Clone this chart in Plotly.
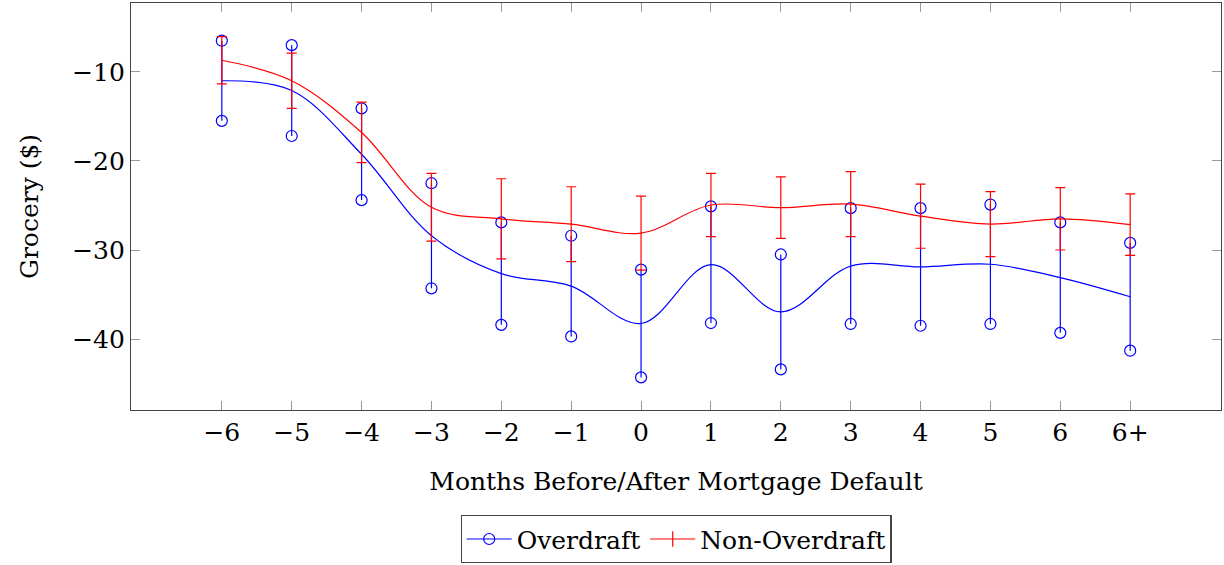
import plotly.graph_objects as go

# Months relative to mortgage default
months = ["−6", "−5", "−4", "−3", "−2", "−1", "0", "1", "2", "3", "4", "5", "6", "6+"]

# Overdraft group: point estimate and half-width of the confidence interval
overdraft_mean = [-11.0, -12.1, -19.25, -28.4, -32.65, -34.05, -38.25, -31.65, -36.95, -31.8, -31.9, -31.6, -33.1, -35.25]
overdraft_err = [4.5, 5.1, 5.15, 5.9, 5.75, 5.65, 6.05, 6.55, 6.45, 6.5, 6.6, 6.7, 6.2, 6.05]

# Non-overdraft group: point estimate and half-width of the confidence interval
nonoverdraft_mean = [-8.7, -11.0, -16.8, -25.2, -26.5, -27.1, -28.1, -24.95, -25.25, -24.85, -26.2, -27.1, -26.5, -27.15]
nonoverdraft_err = [2.65, 3.1, 3.4, 3.8, 4.5, 4.2, 4.15, 3.55, 3.45, 3.65, 3.6, 3.65, 3.5, 3.45]

BLUE = "#0000ff"
RED = "#ff0000"
FONT = "DejaVu Serif, Liberation Serif, serif"
FS = 25

fig = go.Figure()

# Overdraft: smooth curve with plain vertical error bars
fig.add_trace(go.Scatter(
    x=months, y=overdraft_mean, mode="lines",
    line=dict(color=BLUE, width=1.2, shape="spline", smoothing=1.0),
    error_y=dict(type="data", array=overdraft_err, visible=True,
                 color=BLUE, thickness=1.2, width=0),
    showlegend=False, hoverinfo="skip",
))

# Overdraft: open circles marking both ends of each interval
ends_x = months + months
ends_y = [m + e for m, e in zip(overdraft_mean, overdraft_err)] + \
         [m - e for m, e in zip(overdraft_mean, overdraft_err)]
fig.add_trace(go.Scatter(
    x=ends_x, y=ends_y, mode="markers",
    marker=dict(symbol="circle-open", size=11, color=BLUE, line=dict(width=1.2, color=BLUE)),
    showlegend=False, hoverinfo="skip",
))

# Non-overdraft: smooth curve with capped error bars
fig.add_trace(go.Scatter(
    x=months, y=nonoverdraft_mean, mode="lines",
    line=dict(color=RED, width=1.2, shape="spline", smoothing=1.0),
    error_y=dict(type="data", array=nonoverdraft_err, visible=True,
                 color=RED, thickness=1.2, width=5),
    showlegend=False, hoverinfo="skip",
))

# Legend entries
fig.add_trace(go.Scatter(
    x=[None], y=[None], mode="lines+markers", name="Overdraft",
    line=dict(color=BLUE, width=1.2),
    marker=dict(symbol="circle-open", size=11, color=BLUE, line=dict(width=1.2, color=BLUE)),
))
fig.add_trace(go.Scatter(
    x=[None], y=[None], mode="lines+markers", name="Non-Overdraft",
    line=dict(color=RED, width=1.2),
    marker=dict(symbol="line-ns", size=11, color=RED, line=dict(width=1.2, color=RED)),
))

fig.update_layout(
    width=1224, height=565,
    margin=dict(l=131, r=3, t=3, b=154),
    paper_bgcolor="white", plot_bgcolor="white",
    font=dict(family=FONT, size=FS, color="black"),
    legend=dict(
        orientation="h", x=0.5, xanchor="center", y=-0.255, yanchor="top",
        bordercolor="#444", borderwidth=1.2, bgcolor="white",
        font=dict(family=FONT, size=FS), itemwidth=45,
        tracegroupgap=0,
    ),
)

fig.update_xaxes(
    type="category", categoryorder="array", categoryarray=months,
    range=[-1.3, 14.3],
    showgrid=False, zeroline=False,
    showline=True, linecolor="#444", linewidth=1.2, mirror="ticks",
    ticks="inside", ticklen=9, tickcolor="#999", tickwidth=1,
    tickfont=dict(family=FONT, size=FS),
    title=dict(text="Months Before/After Mortgage Default",
               font=dict(family=FONT, size=FS), standoff=26),
)

fig.update_yaxes(
    range=[-47.96, -2.27],
    tickvals=[-10, -20, -30, -40],
    showgrid=False, zeroline=False,
    showline=True, linecolor="#444", linewidth=1.2, mirror="ticks",
    ticks="inside", ticklen=9, tickcolor="#999", tickwidth=1,
    tickfont=dict(family=FONT, size=FS),
    title=dict(text="Grocery ($)", font=dict(family=FONT, size=FS), standoff=26),
)

fig.write_html("out.html")
